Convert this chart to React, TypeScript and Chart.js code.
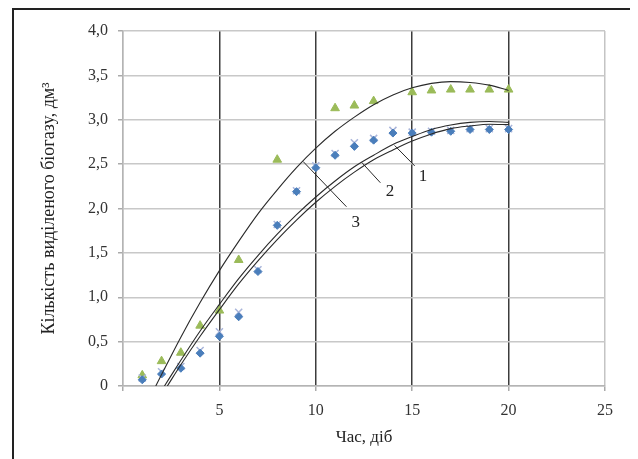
import React, { useEffect, useRef } from "react";
import { Chart, registerables } from "chart.js";

Chart.register(...registerables);

// ---- data ----
const days = [1, 2, 3, 4, 5, 6, 7, 8, 9, 10, 11, 12, 13, 14, 15, 16, 17, 18, 19, 20];
const triangleValues = [0.12, 0.28, 0.375, 0.68, 0.85, 1.42, null, 2.55, null, null, 3.13, 3.16, 3.21, null, 3.31, 3.33, 3.34, 3.34, 3.34, 3.34];
const diamondValues = [0.07, 0.135, 0.2, 0.37, 0.56, 0.78, 1.29, 1.81, 2.19, 2.46, 2.6, 2.7, 2.77, 2.85, 2.85, 2.86, 2.87, 2.89, 2.89, 2.89];
const crossValues = [0.09, 0.16, 0.22, 0.4, 0.61, 0.83, 1.31, 1.82, 2.2, 2.48, 2.62, 2.74, 2.79, 2.88, 2.86, 2.87, 2.88, 2.9, 2.9, 2.9];

// trend curves
const upperCurveX = [1.7, 3, 4, 5, 6, 7, 8, 9, 10, 11, 12, 13, 14, 15, 16, 17, 18, 19, 20];
const upperCurveY = [0, 0.55, 0.94, 1.3, 1.63, 1.94, 2.21, 2.46, 2.68, 2.87, 3.03, 3.17, 3.28, 3.36, 3.41, 3.43, 3.42, 3.39, 3.33];
const middleCurveX = [2.15, 3, 4, 5, 6, 7, 8, 9, 10, 11, 12, 13, 14, 15, 16, 17, 18, 19, 20];
const middleCurveY = [0, 0.29, 0.62, 0.92, 1.21, 1.47, 1.71, 1.93, 2.13, 2.31, 2.47, 2.6, 2.72, 2.81, 2.89, 2.94, 2.97, 2.98, 2.97];
const lowerCurveX = [2.3, 3, 4, 5, 6, 7, 8, 9, 10, 11, 12, 13, 14, 15, 16, 17, 18, 19, 20];
const lowerCurveY = [0, 0.24, 0.56, 0.86, 1.15, 1.41, 1.65, 1.87, 2.07, 2.25, 2.41, 2.55, 2.66, 2.76, 2.84, 2.9, 2.93, 2.95, 2.945];

// curve labels and leader lines
const curveLabels = ["1", "2", "3"];
const labelX = [15.56, 13.85, 12.07];
const labelY = [2.36, 2.19, 1.84];
const leaderStartX = [14.09, 12.38, 9.34];
const leaderStartY = [2.71, 2.52, 2.53];
const leaderEndX = [15.13, 13.35, 11.59];
const leaderEndY = [2.48, 2.29, 2.02];

const xTitle = "Час, діб";
const yTitle = "Кількість виділеного біогазу, дм³";

const SERIF = "'Liberation Serif', 'Times New Roman', serif";

const framePlugin = {
  id: "frame",
  beforeDraw(chart: any) {
    const { ctx, width, height } = chart;
    ctx.save();
    ctx.fillStyle = "#ffffff";
    ctx.fillRect(0, 0, width, height);
    ctx.strokeStyle = "#222";
    ctx.lineWidth = 2;
    ctx.beginPath();
    ctx.moveTo(5, height + 5);
    ctx.lineTo(5, 1);
    ctx.lineTo(627, 1);
    ctx.lineTo(627, height + 5);
    ctx.stroke();
    ctx.restore();
  },
};

const labelPlugin = {
  id: "curveLabels",
  afterDatasetsDraw(chart: any) {
    const { ctx, scales } = chart;
    ctx.save();
    ctx.fillStyle = "#222";
    ctx.font = `17px ${SERIF}`;
    ctx.textAlign = "center";
    ctx.textBaseline = "middle";
    curveLabels.forEach((t, i) => {
      ctx.fillText(t, scales.x.getPixelForValue(labelX[i]), scales.y.getPixelForValue(labelY[i]));
    });
    ctx.restore();
  },
};

export default function App() {
  const ref = useRef<HTMLCanvasElement>(null);

  useEffect(() => {
    if (!ref.current) return;
    const pts = (xs: number[], ys: (number | null)[]) => xs.map((x, i) => ({ x, y: ys[i] }));
    const curve = (xs: number[], ys: number[]) => ({
      data: pts(xs, ys),
      showLine: true,
      borderColor: "#2a2a2a",
      borderWidth: 1.1,
      pointRadius: 0,
      fill: false,
      cubicInterpolationMode: "monotone" as const,
      order: 0,
    });
    const leaders = curveLabels.map((_, i) => ({
      data: [
        { x: leaderStartX[i], y: leaderStartY[i] },
        { x: leaderEndX[i], y: leaderEndY[i] },
      ],
      showLine: true,
      borderColor: "#2a2a2a",
      borderWidth: 1,
      pointRadius: 0,
      fill: false,
      order: 0,
    }));

    const chart = new Chart(ref.current, {
      type: "scatter",
      data: {
        datasets: [
          curve(upperCurveX, upperCurveY),
          curve(middleCurveX, middleCurveY),
          curve(lowerCurveX, lowerCurveY),
          ...leaders,
          {
            data: pts(days, triangleValues),
            pointStyle: "triangle",
            pointRadius: 5,
            backgroundColor: "#9BBB59",
            borderColor: "#9BBB59",
            borderWidth: 1,
            order: 3,
          },
          {
            data: pts(days, crossValues),
            pointStyle: "crossRot",
            pointRadius: 5,
            borderColor: "#A9B5DA",
            borderWidth: 1.5,
            order: 2,
          },
          {
            data: pts(days, diamondValues),
            pointStyle: "rectRot",
            pointRadius: 4,
            backgroundColor: "#4A7EBB",
            borderColor: "#4A7EBB",
            borderWidth: 1,
            order: 1,
          },
        ] as any,
      },
      options: {
        responsive: false,
        animation: false,
        devicePixelRatio: 1,
        layout: { padding: { left: 0, right: 33, top: 23, bottom: 0 } },
        plugins: {
          legend: { display: false },
          tooltip: { enabled: false },
        },
        scales: {
          x: {
            type: "linear",
            min: 0,
            max: 25,
            afterFit: (s: any) => {
              s.height = 73;
            },
            ticks: {
              stepSize: 5,
              padding: 10,
              color: "#333",
              font: { family: SERIF, size: 16 },
              callback: (v: any) => (v === 0 ? "" : String(v)),
            },
            grid: {
              color: (c: any) => (c.tick && (c.tick.value === 0 || c.tick.value === 25) ? "#c4c4c4" : "#3c3c3c"),
              lineWidth: 1.5,
              tickColor: "#aaaaaa",
              tickLength: 5,
            },
            border: { color: "#b4b4b4", width: 1.5 },
            title: {
              display: true,
              text: xTitle,
              color: "#222",
              font: { family: SERIF, size: 17 },
              padding: { top: 0, bottom: 11 },
            },
          },
          y: {
            type: "linear",
            min: 0,
            max: 4,
            afterFit: (s: any) => {
              s.width = 115;
            },
            ticks: {
              stepSize: 0.5,
              padding: 10,
              color: "#333",
              font: { family: SERIF, size: 16 },
              callback: (v: any) => (v === 0 ? "0" : Number(v).toFixed(1).replace(".", ",")),
            },
            grid: {
              color: "#c8c8c8",
              lineWidth: 1.5,
              tickColor: "#aaaaaa",
              tickLength: 5,
            },
            border: { color: "#b4b4b4", width: 1.5 },
            title: {
              display: true,
              text: yTitle,
              color: "#222",
              font: { family: SERIF, size: 18 },
              padding: { top: 30, bottom: 0 },
            },
          },
        },
      },
      plugins: [framePlugin, labelPlugin],
    });
    return () => chart.destroy();
  }, []);

  return (
    <div style={{ width: 630, height: 451 }}>
      <canvas ref={ref} width={630} height={451} style={{ display: "block", width: 630, height: 451 }} />
    </div>
  );
}
